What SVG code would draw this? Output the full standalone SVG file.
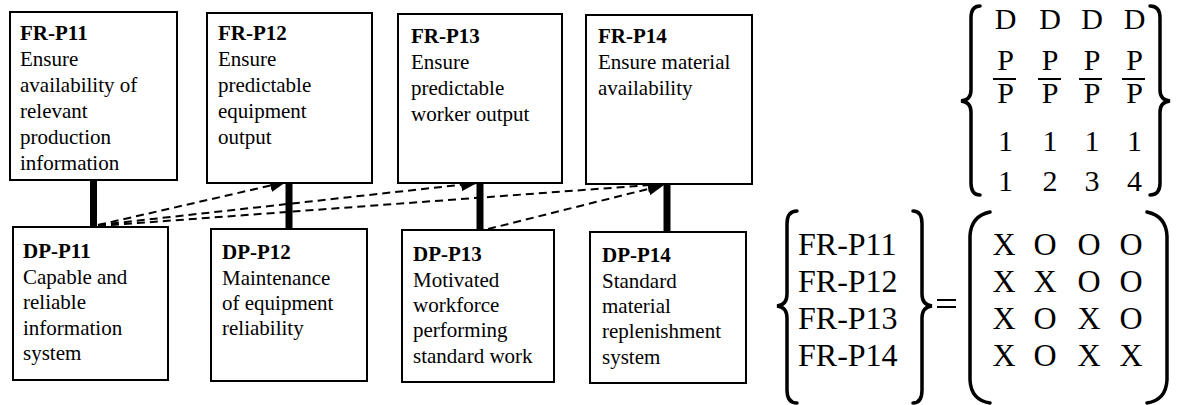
<svg xmlns="http://www.w3.org/2000/svg" width="1179" height="405" viewBox="0 0 1179 405" font-family="'Liberation Serif', 'Times New Roman', 'DejaVu Serif', serif">
<defs>
<style>
text{font-family:'Liberation Serif','Times New Roman','DejaVu Serif',serif;fill:#000}
.box{fill:#fff;stroke:#000;stroke-width:2}
.t{font-size:21px}
.b{font-weight:bold}
.thick{stroke:#000;stroke-width:7}
.dash{fill:none;stroke:#000;stroke-width:2;stroke-dasharray:8,5}
.m{font-size:30px;text-anchor:middle}
.m2{font-size:32px}
.br{fill:none;stroke:#000;stroke-width:3.5;stroke-linecap:round}
</style>
<marker id="ah" markerUnits="userSpaceOnUse" markerWidth="18" markerHeight="14" refX="16" refY="6.5" orient="auto">
<path d="M0,0 L16,6.5 L0,13 Z" fill="#000"/>
</marker>
</defs>
<rect width="1179" height="405" fill="#fff"/>

<g id="connectors">
<line class="thick" x1="93.5" y1="180" x2="93.5" y2="227"/>
<line class="thick" x1="289" y1="183" x2="289" y2="229"/>
<line class="thick" x1="480" y1="183" x2="480" y2="230"/>
<line class="thick" x1="667" y1="184" x2="667" y2="232"/>
<line class="dash" x1="98" y1="225" x2="286" y2="182" marker-end="url(#ah)"/>
<line class="dash" x1="98" y1="225" x2="477" y2="183" marker-end="url(#ah)"/>
<line class="dash" x1="98" y1="226" x2="664" y2="184" marker-end="url(#ah)"/>
<line class="dash" x1="488" y1="229" x2="664" y2="185" marker-end="url(#ah)"/>
</g>

<g id="fr-p11">
<rect class="box" x="10" y="12" width="167" height="168"/>
<text class="t b" x="20" y="40">FR-P11</text>
<text class="t" x="20" y="66">Ensure</text>
<text class="t" x="20" y="92">availability of</text>
<text class="t" x="20" y="118">relevant</text>
<text class="t" x="20" y="144">production</text>
<text class="t" x="20" y="170">information</text>
</g>
<g id="fr-p12">
<rect class="box" x="207" y="13" width="165" height="170"/>
<text class="t b" x="218" y="40">FR-P12</text>
<text class="t" x="218" y="66">Ensure</text>
<text class="t" x="218" y="92">predictable</text>
<text class="t" x="218" y="118">equipment</text>
<text class="t" x="218" y="144">output</text>
</g>
<g id="fr-p13">
<rect class="box" x="398" y="14" width="164" height="169"/>
<text class="t b" x="411" y="43">FR-P13</text>
<text class="t" x="411" y="69">Ensure</text>
<text class="t" x="411" y="95">predictable</text>
<text class="t" x="411" y="121">worker output</text>
</g>
<g id="fr-p14">
<rect class="box" x="586" y="15" width="166" height="169"/>
<text class="t b" x="598" y="43">FR-P14</text>
<text class="t" x="598" y="69">Ensure material</text>
<text class="t" x="598" y="95">availability</text>
</g>

<g id="dp-p11">
<rect class="box" x="13" y="227" width="155" height="153"/>
<text class="t b" x="23" y="258">DP-P11</text>
<text class="t" x="23" y="284">Capable and</text>
<text class="t" x="23" y="309">reliable</text>
<text class="t" x="23" y="335">information</text>
<text class="t" x="23" y="360">system</text>
</g>
<g id="dp-p12">
<rect class="box" x="211" y="229" width="156" height="152"/>
<text class="t b" x="222" y="259">DP-P12</text>
<text class="t" x="222" y="285">Maintenance</text>
<text class="t" x="222" y="310">of equipment</text>
<text class="t" x="222" y="335">reliability</text>
</g>
<g id="dp-p13">
<rect class="box" x="402" y="230" width="152" height="152"/>
<text class="t b" x="413" y="261">DP-P13</text>
<text class="t" x="413" y="287">Motivated</text>
<text class="t" x="413" y="312">workforce</text>
<text class="t" x="413" y="337">performing</text>
<text class="t" x="413" y="363">standard work</text>
</g>
<g id="dp-p14">
<rect class="box" x="590" y="232" width="156" height="151"/>
<text class="t b" x="602" y="262">DP-P14</text>
<text class="t" x="602" y="288">Standard</text>
<text class="t" x="602" y="313">material</text>
<text class="t" x="602" y="338">replenishment</text>
<text class="t" x="602" y="364">system</text>
</g>

<g id="dp-vector">
<path class="br" d="M980,6 Q971,6 971,18 L971,90 Q971,100 961,101 Q971,102 971,112 L971,183 Q971,195 980,195"/>
<path class="br" d="M1150,6 Q1160,6 1160,18 L1160,90 Q1160,100 1170,101 Q1160,102 1160,112 L1160,183 Q1160,195 1150,195"/>
<text class="m" x="1005.5" y="29">D</text>
<text class="m" x="1050" y="29">D</text>
<text class="m" x="1092" y="29">D</text>
<text class="m" x="1134.5" y="29">D</text>
<text class="m" x="1005.5" y="70">P</text>
<text class="m" x="1050" y="70">P</text>
<text class="m" x="1092" y="70">P</text>
<text class="m" x="1134.5" y="70">P</text>
<g stroke="#000" stroke-width="2">
<line x1="993" y1="79" x2="1016" y2="79"/>
<line x1="1038" y1="79" x2="1061" y2="79"/>
<line x1="1079" y1="79" x2="1102" y2="79"/>
<line x1="1122" y1="79" x2="1145" y2="79"/>
</g>
<text class="m" x="1005.5" y="103">P</text>
<text class="m" x="1050" y="103">P</text>
<text class="m" x="1092" y="103">P</text>
<text class="m" x="1134.5" y="103">P</text>
<text class="m" x="1005.5" y="151">1</text>
<text class="m" x="1050" y="151">1</text>
<text class="m" x="1092" y="151">1</text>
<text class="m" x="1134.5" y="151">1</text>
<text class="m" x="1005.5" y="191">1</text>
<text class="m" x="1050" y="191">2</text>
<text class="m" x="1092" y="191">3</text>
<text class="m" x="1134.5" y="191">4</text>
</g>

<g id="design-equation">
<path class="br" d="M797,211 Q787,211 787,224 L787,294 Q787,305 777,306 Q787,307 787,318 L787,390 Q787,403 797,403"/>
<text class="m2" x="798" y="255">FR-P11</text>
<text class="m2" x="798" y="292">FR-P12</text>
<text class="m2" x="798" y="329">FR-P13</text>
<text class="m2" x="798" y="366">FR-P14</text>
<path class="br" d="M913,211 Q922,211 922,224 L922,294 Q922,305 932,306 Q922,307 922,318 L922,390 Q922,403 913,403"/>
<g stroke="#000" stroke-width="2">
<line x1="937" y1="300" x2="956" y2="300"/>
<line x1="937" y1="307" x2="956" y2="307"/>
</g>
<path class="br" d="M990,212 Q971,216 970,236 L970,380 Q971,400 990,403"/>
<path class="br" d="M1147,212 Q1166,216 1167,236 L1167,380 Q1166,400 1147,403"/>
<g class="m2" text-anchor="middle">
<text x="1004" y="255">X</text><text x="1045" y="255">O</text><text x="1089" y="255">O</text><text x="1131" y="255">O</text>
<text x="1004" y="292">X</text><text x="1045" y="292">X</text><text x="1089" y="292">O</text><text x="1131" y="292">O</text>
<text x="1004" y="329">X</text><text x="1045" y="329">O</text><text x="1089" y="329">X</text><text x="1131" y="329">O</text>
<text x="1004" y="366">X</text><text x="1045" y="366">O</text><text x="1089" y="366">X</text><text x="1131" y="366">X</text>
</g>
</g>
</svg>
